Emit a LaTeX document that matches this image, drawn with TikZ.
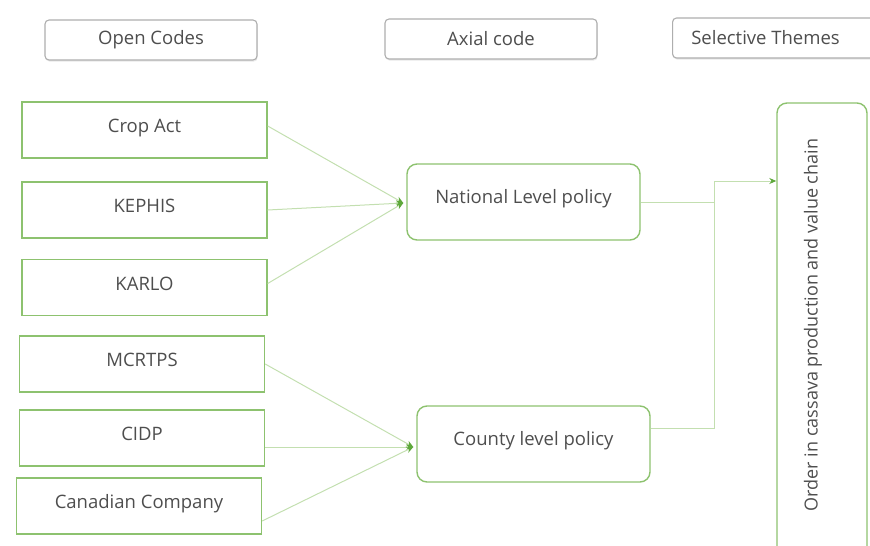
\documentclass[tikz,border=0pt]{standalone}
\usepackage{fontspec}
\setmainfont{Open Sans}
\usetikzlibrary{arrows.meta,calc,shadows}
\definecolor{boxgreen}{HTML}{8DC26F}
\definecolor{linegreen}{HTML}{C3DFB0}
\definecolor{tipgreen}{HTML}{5EA83B}
\definecolor{hdrgray}{HTML}{AEAEAE}
\definecolor{txt}{HTML}{4E4E4E}
\begin{document}
\begin{tikzpicture}[x=1pt,y=-1pt,
  header/.style={draw=hdrgray, line width=1.1pt, rounded corners=4pt,
    minimum width=212pt, minimum height=40pt, inner sep=0pt, text=txt,
    font=\fontsize{18.5}{21}\selectfont,
    drop shadow={opacity=0.18, shadow xshift=0.6pt, shadow yshift=-1.6pt}, fill=white},
  codebox/.style={draw=boxgreen, line width=1.4pt, minimum width=245pt,
    minimum height=56pt, inner sep=0pt, text=txt,
    font=\fontsize{18.5}{21}\selectfont, text height=13pt, text depth=8pt},
  axialbox/.style={draw=boxgreen, line width=1.4pt, rounded corners=10pt,
    minimum width=233pt, minimum height=76pt, inner sep=0pt, text=txt,
    font=\fontsize{18.5}{21}\selectfont, text height=13pt, text depth=11pt},
  themebox/.style={draw=boxgreen, line width=1.4pt, rounded corners=10pt,
    minimum width=90pt, minimum height=458pt, inner sep=0pt, text=txt,
    font=\fontsize{18}{21}\selectfont},
  link/.style={draw=linegreen, line width=1pt},
  linkarrow/.style={link, -{Stealth[length=7pt,width=6pt,color=tipgreen]}}
]
\useasboundingbox (0,0) rectangle (870,546);

% column headings
\node[header] (hopen) at (151,40) {Open Codes};
\node[header] (haxial) at (491,39) {Axial code};
\node[header, anchor=west] (hsel) at (672,38) {Selective Themes\hspace*{26pt}};

% open codes
\node[codebox] (crop)  at (144.5,130) {Crop Act};
\node[codebox] (keph)  at (144.5,210) {KEPHIS};
\node[codebox] (karlo) at (144.5,287.5) {KARLO};
\node[codebox] (mcr)   at (142,364) {MCRTPS};
\node[codebox] (cidp)  at (142,438) {CIDP};
\node[codebox] (canad) at (139,506) {Canadian Company};

% axial codes
\node[axialbox] (nat) at (523.5,202) {National Level policy};
\node[axialbox] (cty) at (533.5,444) {County level policy};

% selective theme
\node[themebox] (order) at (822,332)
  {\rotatebox{90}{\hspace*{14pt}Order in cassava production and value chain}\hspace*{18pt}};

% open codes to axial codes
\coordinate (natin) at ($(nat.west)+(-3,1)$);
\coordinate (ctyin) at ($(cty.west)+(-3,3)$);
\draw[linkarrow] ([yshift=4pt]crop.east) -- (natin);
\draw[linkarrow] (keph.east) -- (natin);
\draw[linkarrow] ([yshift=4pt]karlo.east) -- (natin);
\draw[linkarrow] (mcr.east) -- (ctyin);
\draw[linkarrow] ([yshift=-9pt]cidp.east) -- (ctyin);
\draw[linkarrow] ([yshift=-15pt]canad.east) -- (ctyin);

% axial codes to selective theme
\coordinate (join) at (714,181);
\draw[link] (nat.east) -| (join);
\draw[link] ([yshift=16pt]cty.east) -| (join);
\draw[linkarrow] (join) -- (join -| order.west);
\end{tikzpicture}
\end{document}
